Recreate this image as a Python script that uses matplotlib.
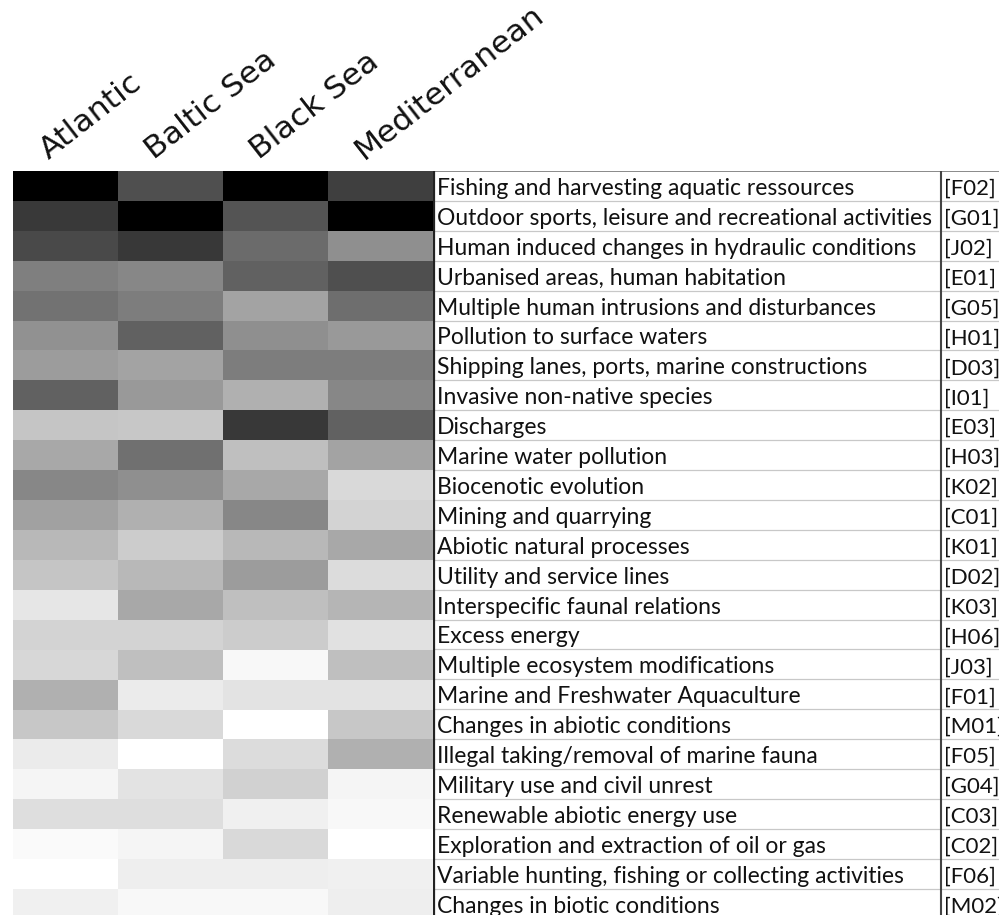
import matplotlib
matplotlib.use("Agg")
import matplotlib.pyplot as plt
import numpy as np

regions = ["Atlantic", "Baltic Sea", "Black Sea", "Mediterranean"]
pressures = [
    "Fishing and harvesting aquatic ressources",
    "Outdoor sports, leisure and recreational activities",
    "Human induced changes in hydraulic conditions",
    "Urbanised areas, human habitation",
    "Multiple human intrusions and disturbances",
    "Pollution to surface waters",
    "Shipping lanes, ports, marine constructions",
    "Invasive non-native species",
    "Discharges",
    "Marine water pollution",
    "Biocenotic evolution",
    "Mining and quarrying",
    "Abiotic natural processes",
    "Utility and service lines",
    "Interspecific faunal relations",
    "Excess energy",
    "Multiple ecosystem modifications",
    "Marine and Freshwater Aquaculture",
    "Changes in abiotic conditions",
    "Illegal taking/removal of marine fauna",
    "Military use and civil unrest",
    "Renewable abiotic energy use",
    "Exploration and extraction of oil or gas",
    "Variable hunting, fishing or collecting activities",
    "Changes in biotic conditions",
]
codes = ["[F02]", "[G01]", "[J02]", "[E01]", "[G05]", "[H01]", "[D03]", "[I01]",
         "[E03]", "[H03]", "[K02]", "[C01]", "[K01]", "[D02]", "[K03]", "[H06]",
         "[J03]", "[F01]", "[M01]", "[F05]", "[G04]", "[C03]", "[C02]", "[F06]",
         "[M02]"]

# relative intensity (0 = white, 100 = black)
atlantic = [100, 77, 71, 50, 55, 43, 39, 62, 23, 34, 47, 37, 28, 23, 10, 17, 16, 31, 22, 8, 4, 13, 2, 0, 6]
baltic = [69, 100, 78, 47, 51, 62, 36, 40, 22, 56, 44, 31, 20, 28, 34, 17, 25, 8, 15, 0, 11, 13, 4, 7, 3]
black_sea = [100, 67, 58, 62, 36, 44, 51, 31, 78, 25, 34, 47, 28, 39, 25, 20, 3, 11, 0, 14, 18, 6, 15, 7, 3]
mediterranean = [75, 100, 44, 69, 57, 40, 51, 47, 62, 36, 15, 17, 34, 14, 29, 12, 25, 11, 22, 31, 4, 3, 0, 6, 7]

W, H = 999, 915
fig = plt.figure(figsize=(W / 100, H / 100), dpi=100)
renderer = fig.canvas.get_renderer()

left, right_hm, top = 13, 433, 171
row_h = 29.9
n = len(pressures)
bottom = top + n * row_h

ax = fig.add_axes([left / W, 1 - bottom / H, (right_hm - left) / W, n * row_h / H])
data = np.column_stack([atlantic, baltic, black_sea, mediterranean])
ax.imshow(data, cmap="gray_r", vmin=0, vmax=100, aspect="auto",
          interpolation="nearest", extent=(0, len(regions), n, 0))
ax.set_xlim(0, len(regions))
ax.set_ylim(n, 0)
ax.axis("off")


def fit_size(text, family, target, base=20):
    t = fig.text(0, 0, text, fontsize=base, family=family)
    w = t.get_window_extent(renderer).width
    t.remove()
    return base * target / w


label_font = ["Lato", "DejaVu Sans"]
fs_lab = fit_size(max(pressures, key=len), label_font, 496)
fs_code = fs_lab * 0.97
head_font = "DejaVu Sans"
fs_head = fit_size("Mediterranean", head_font, 230)

for j, r in enumerate(regions):
    ax.text(j + 0.34, -11 / row_h, r, rotation=38, rotation_mode="anchor",
            ha="left", va="baseline", fontsize=fs_head, family=head_font,
            color="#111111", clip_on=False)

tx = fig.add_axes([right_hm / W, 1 - bottom / H, (W - right_hm) / W, n * row_h / H])
tx.set_xlim(right_hm, W)
tx.set_ylim(n, 0)
tx.axis("off")
for i in range(1, n):
    tx.hlines(i, right_hm, W, color="#c8c8c8", lw=0.9)
tx.hlines(0, right_hm, W, color="#808080", lw=1.3)
tx.vlines(right_hm + 1, 0, n, color="#222222", lw=1.6)
tx.vlines(941, 0, n, color="#444444", lw=1.5)

for i, (p, c) in enumerate(zip(pressures, codes)):
    tx.text(437, i + 0.8, p, fontsize=fs_lab, family=label_font, va="baseline",
            ha="left", color="#111111")
    tx.text(944, i + 0.8, c, fontsize=fs_code, family=label_font, va="baseline",
            ha="left", color="#111111")

fig.savefig("out.png", dpi=100)
